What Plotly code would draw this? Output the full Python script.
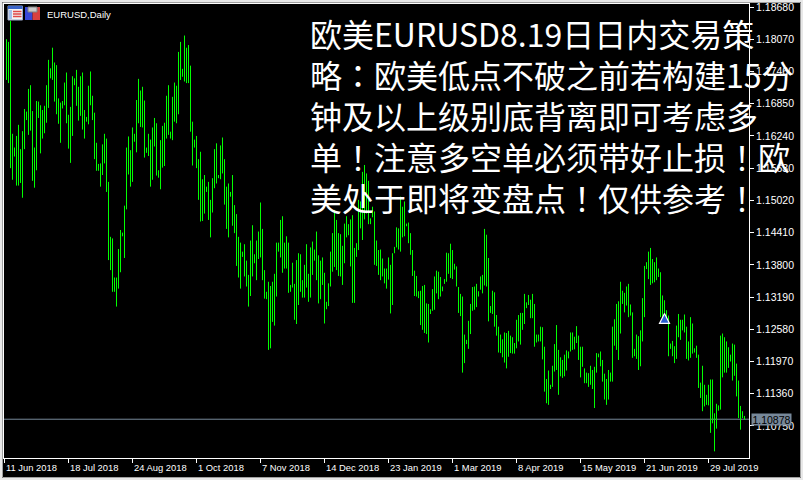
import plotly.graph_objects as go

# ---------------- data ----------------
highs = [
    1.1807, 1.1802, 1.1842, 1.1628, 1.1602, 1.1624, 1.1645, 1.1599, 1.1633, 1.1675,
    1.1670, 1.1713, 1.1720, 1.1671, 1.1602, 1.1690, 1.1689, 1.1682, 1.1673, 1.1681,
    1.1720, 1.1768, 1.1752, 1.1791, 1.1763, 1.1758, 1.1695, 1.1687, 1.1690, 1.1725,
    1.1744, 1.1664, 1.1679, 1.1737, 1.1733, 1.1749, 1.1717, 1.1737, 1.1744, 1.1673,
    1.1660, 1.1719, 1.1746, 1.1700, 1.1668, 1.1611, 1.1571, 1.1572, 1.1608, 1.1628,
    1.1619, 1.1537, 1.1433, 1.1430, 1.1356, 1.1356, 1.1410, 1.1446, 1.1441, 1.1492,
    1.1602, 1.1623, 1.1597, 1.1640, 1.1628, 1.1692, 1.1732, 1.1710, 1.1717, 1.1691,
    1.1602, 1.1628, 1.1617, 1.1640, 1.1658, 1.1648, 1.1559, 1.1616, 1.1643, 1.1649,
    1.1700, 1.1720, 1.1632, 1.1698, 1.1725, 1.1719, 1.1783, 1.1802, 1.1751, 1.1814,
    1.1791, 1.1796, 1.1757, 1.1651, 1.1617, 1.1624, 1.1580, 1.1594, 1.1542, 1.1550,
    1.1528, 1.1537, 1.1503, 1.1544, 1.1599, 1.1610, 1.1550, 1.1606, 1.1621, 1.1580,
    1.1528, 1.1534, 1.1518, 1.1550, 1.1493, 1.1476, 1.1433, 1.1422, 1.1405, 1.1419,
    1.1388, 1.1361, 1.1426, 1.1455, 1.1400, 1.1426, 1.1443, 1.1498, 1.1448, 1.1370,
    1.1329, 1.1348, 1.1340, 1.1348, 1.1363, 1.1422, 1.1422, 1.1465, 1.1472, 1.1422,
    1.1434, 1.1422, 1.1342, 1.1384, 1.1344, 1.1389, 1.1402, 1.1400, 1.1351, 1.1380,
    1.1419, 1.1363, 1.1413, 1.1424, 1.1409, 1.1443, 1.1398, 1.1388, 1.1394, 1.1365,
    1.1310, 1.1345, 1.1405, 1.1440, 1.1484, 1.1465, 1.1440, 1.1438, 1.1416, 1.1458,
    1.1472, 1.1457, 1.1466, 1.1474, 1.1412, 1.1421, 1.1503, 1.1500, 1.1556, 1.1569,
    1.1553, 1.1539, 1.1468, 1.1490, 1.1481, 1.1426, 1.1408, 1.1409, 1.1392, 1.1373,
    1.1373, 1.1394, 1.1380, 1.1402, 1.1414, 1.1451, 1.1449, 1.1509, 1.1490, 1.1500,
    1.1458, 1.1460, 1.1440, 1.1408, 1.1369, 1.1359, 1.1330, 1.1331, 1.1340, 1.1342,
    1.1307, 1.1306, 1.1296, 1.1334, 1.1358, 1.1369, 1.1367, 1.1357, 1.1339, 1.1353,
    1.1403, 1.1402, 1.1420, 1.1408, 1.1382, 1.1377, 1.1338, 1.1325, 1.1320, 1.1248,
    1.1238, 1.1274, 1.1306, 1.1338, 1.1339, 1.1344, 1.1330, 1.1358, 1.1361, 1.1448,
    1.1437, 1.1393, 1.1302, 1.1331, 1.1328, 1.1285, 1.1263, 1.1248, 1.1239, 1.1252,
    1.1251, 1.1255, 1.1246, 1.1243, 1.1232, 1.1276, 1.1285, 1.1289, 1.1289, 1.1325,
    1.1309, 1.1323, 1.1314, 1.1325, 1.1306, 1.1248, 1.1248, 1.1263, 1.1262, 1.1225,
    1.1164, 1.1180, 1.1153, 1.1189, 1.1230, 1.1266, 1.1219, 1.1205, 1.1200, 1.1210,
    1.1218, 1.1216, 1.1252, 1.1252, 1.1244, 1.1264, 1.1246, 1.1225, 1.1225, 1.1184,
    1.1176, 1.1175, 1.1189, 1.1181, 1.1187, 1.1213, 1.1212, 1.1216, 1.1200, 1.1174,
    1.1164, 1.1181, 1.1176, 1.1263, 1.1277, 1.1306, 1.1311, 1.1348, 1.1331, 1.1327,
    1.1339, 1.1344, 1.1305, 1.1290, 1.1221, 1.1248, 1.1245, 1.1256, 1.1317, 1.1378,
    1.1385, 1.1405, 1.1412, 1.1391, 1.1385, 1.1394, 1.1373, 1.1366, 1.1322, 1.1313,
    1.1294, 1.1284, 1.1231, 1.1236, 1.1226, 1.1265, 1.1287, 1.1276, 1.1276, 1.1286,
    1.1263, 1.1235, 1.1281, 1.1269, 1.1222, 1.1227, 1.1210, 1.1157, 1.1189, 1.1153,
    1.1134, 1.1153, 1.1163, 1.1163, 1.1099, 1.1117, 1.1114, 1.1246, 1.1250, 1.1243,
    1.1235, 1.1224, 1.1210, 1.1231, 1.1229, 1.1193, 1.1161, 1.1113, 1.1103, 1.1094,
]
lows = [
    1.1730, 1.1724, 1.1563, 1.1541, 1.1585, 1.1530, 1.1530, 1.1535, 1.1507, 1.1599,
    1.1654, 1.1626, 1.1634, 1.1539, 1.1526, 1.1559, 1.1658, 1.1591, 1.1619, 1.1629,
    1.1649, 1.1677, 1.1733, 1.1730, 1.1689, 1.1665, 1.1647, 1.1611, 1.1676, 1.1682,
    1.1648, 1.1600, 1.1573, 1.1624, 1.1720, 1.1681, 1.1653, 1.1662, 1.1636, 1.1619,
    1.1651, 1.1646, 1.1682, 1.1654, 1.1580, 1.1558, 1.1558, 1.1528, 1.1550, 1.1572,
    1.1518, 1.1389, 1.1370, 1.1329, 1.1329, 1.1301, 1.1335, 1.1366, 1.1434, 1.1393,
    1.1485, 1.1551, 1.1528, 1.1537, 1.1613, 1.1593, 1.1648, 1.1641, 1.1640, 1.1583,
    1.1592, 1.1586, 1.1528, 1.1541, 1.1604, 1.1549, 1.1545, 1.1523, 1.1564, 1.1567,
    1.1619, 1.1626, 1.1619, 1.1616, 1.1651, 1.1648, 1.1665, 1.1730, 1.1736, 1.1727,
    1.1724, 1.1724, 1.1632, 1.1568, 1.1602, 1.1563, 1.1503, 1.1462, 1.1463, 1.1477,
    1.1518, 1.1465, 1.1432, 1.1479, 1.1525, 1.1534, 1.1544, 1.1542, 1.1553, 1.1494,
    1.1448, 1.1432, 1.1509, 1.1454, 1.1440, 1.1378, 1.1356, 1.1335, 1.1395, 1.1358,
    1.1339, 1.1301, 1.1321, 1.1358, 1.1383, 1.1351, 1.1391, 1.1394, 1.1351, 1.1316,
    1.1315, 1.1219, 1.1222, 1.1272, 1.1265, 1.1320, 1.1405, 1.1394, 1.1365, 1.1373,
    1.1373, 1.1327, 1.1329, 1.1337, 1.1276, 1.1268, 1.1304, 1.1329, 1.1318, 1.1318,
    1.1337, 1.1310, 1.1318, 1.1361, 1.1388, 1.1351, 1.1307, 1.1315, 1.1342, 1.1269,
    1.1296, 1.1302, 1.1339, 1.1367, 1.1376, 1.1370, 1.1359, 1.1358, 1.1342, 1.1383,
    1.1432, 1.1436, 1.1377, 1.1308, 1.1308, 1.1395, 1.1408, 1.1449, 1.1427, 1.1466,
    1.1477, 1.1457, 1.1457, 1.1470, 1.1380, 1.1378, 1.1361, 1.1351, 1.1358, 1.1345,
    1.1335, 1.1352, 1.1288, 1.1304, 1.1402, 1.1413, 1.1409, 1.1405, 1.1432, 1.1434,
    1.1453, 1.1421, 1.1399, 1.1359, 1.1321, 1.1320, 1.1317, 1.1266, 1.1257, 1.1251,
    1.1249, 1.1233, 1.1287, 1.1293, 1.1295, 1.1326, 1.1315, 1.1320, 1.1330, 1.1344,
    1.1348, 1.1363, 1.1355, 1.1353, 1.1371, 1.1339, 1.1289, 1.1283, 1.1176, 1.1194,
    1.1230, 1.1221, 1.1249, 1.1293, 1.1295, 1.1300, 1.1320, 1.1333, 1.1326, 1.1341,
    1.1339, 1.1273, 1.1289, 1.1287, 1.1263, 1.1246, 1.1214, 1.1213, 1.1205, 1.1195,
    1.1184, 1.1206, 1.1213, 1.1212, 1.1212, 1.1222, 1.1235, 1.1229, 1.1257, 1.1268,
    1.1298, 1.1304, 1.1279, 1.1279, 1.1225, 1.1233, 1.1235, 1.1235, 1.1201, 1.1140,
    1.1118, 1.1115, 1.1145, 1.1149, 1.1178, 1.1181, 1.1134, 1.1169, 1.1166, 1.1169,
    1.1180, 1.1203, 1.1216, 1.1219, 1.1220, 1.1232, 1.1200, 1.1167, 1.1187, 1.1156,
    1.1156, 1.1149, 1.1153, 1.1145, 1.1109, 1.1176, 1.1205, 1.1188, 1.1159, 1.1125,
    1.1115, 1.1125, 1.1159, 1.1159, 1.1227, 1.1219, 1.1200, 1.1250, 1.1306, 1.1290,
    1.1303, 1.1281, 1.1284, 1.1204, 1.1207, 1.1202, 1.1181, 1.1188, 1.1235, 1.1281,
    1.1372, 1.1353, 1.1342, 1.1345, 1.1347, 1.1351, 1.1357, 1.1281, 1.1276, 1.1270,
    1.1276, 1.1207, 1.1221, 1.1207, 1.1194, 1.1202, 1.1243, 1.1238, 1.1256, 1.1252,
    1.1202, 1.1199, 1.1204, 1.1212, 1.1214, 1.1204, 1.1147, 1.1128, 1.1103, 1.1112,
    1.1115, 1.1114, 1.1062, 1.1080, 1.1027, 1.1070, 1.1104, 1.1106, 1.1167, 1.1176,
    1.1176, 1.1185, 1.1197, 1.1161, 1.1170, 1.1131, 1.1090, 1.1068, 1.1090, 1.1087,
]
date_ticks = [-1, 31, 63, 95, 127, 159, 191, 223, 255, 287, 319, 351]
date_labels = ["11 Jun 2018", "18 Jul 2018", "24 Aug 2018", "1 Oct 2018",
               "7 Nov 2018", "14 Dec 2018", "23 Jan 2019", "1 Mar 2019",
               "8 Apr 2019", "15 May 2019", "21 Jun 2019", "29 Jul 2019"]
price_ticks = [1.18680, 1.18070, 1.17460, 1.16850, 1.16240, 1.15630, 1.15020,
               1.14410, 1.13800, 1.13190, 1.12580, 1.11970, 1.11360, 1.10750]
last_price = 1.10878
arrow_bar = [329]
arrow_price = [1.1288]
symbol_title = "EURUSD,Daily"
note_lines = [
    "欧美EURUSD8.19日日内交易策",
    "略：欧美低点不破之前若构建15分",
    "钟及以上级别底背离即可考虑多",
    "单！注意多空单必须带好止损！欧",
    "美处于即将变盘点！仅供参考！",
]

# ---------------- layout geometry ----------------
W, H = 803, 480
L, R, T, B = 4, 54, 4, 22
PW, PH = W - L - R, H - T - B
X_RANGE = [-1.25, 371.25]
Y_RANGE = [1.10144, 1.18737]


def px(x):
    return (x - L) / PW


def py(y):
    return (H - B - y) / PH


def centered_punct(s):
    # full-width punctuation centred in its cell, as in the reference
    out = []
    for ch in s:
        if ch in "！：":
            out.append("<span style=\"font-family:'Noto Sans CJK TC'\">" + ch + "</span>")
        else:
            out.append(ch)
    return "".join(out)


# high-low bars as one line trace with gaps
xs, ys = [], []
for i, (h, l) in enumerate(zip(highs, lows)):
    xs += [i, i, None]
    ys += [l, h, None]

fig = go.Figure()
fig.add_trace(go.Scatter(x=xs, y=ys, mode="lines",
                         line=dict(color="#00ff00", width=1),
                         hoverinfo="skip", showlegend=False))
fig.add_trace(go.Scatter(x=arrow_bar, y=arrow_price, mode="markers",
                         marker=dict(symbol="arrow-up", size=10, color="#2a5cd0",
                                     line=dict(color="white", width=1.2)),
                         hoverinfo="skip", showlegend=False))

shapes = []
# current price line
shapes.append(dict(type="line", xref="paper", yref="y", x0=0, x1=1,
                   y0=last_price, y1=last_price, layer="below",
                   line=dict(color="#778899", width=1)))
# window border
shapes.append(dict(type="rect", xref="paper", yref="paper",
                   x0=px(1), x1=px(W - 1), y0=py(H - 1), y1=py(1),
                   line=dict(color="#e8e8e8", width=2)))
shapes.append(dict(type="rect", xref="paper", yref="paper",
                   x0=px(2.5), x1=px(W - 2.5), y0=py(H - 2.5), y1=py(2.5),
                   line=dict(color="#a0a0a0", width=1)))
# icon 1 (table-like)
shapes.append(dict(type="rect", xref="paper", yref="paper",
                   x0=px(8), x1=px(22.5), y0=py(20), y1=py(6),
                   fillcolor="#f4f4f4", line=dict(color="#9aa8c8", width=1)))
shapes.append(dict(type="rect", xref="paper", yref="paper",
                   x0=px(8), x1=px(22.5), y0=py(9), y1=py(6),
                   fillcolor="#3a64c8", line=dict(width=0)))
shapes.append(dict(type="rect", xref="paper", yref="paper",
                   x0=px(9), x1=px(12), y0=py(19), y1=py(10),
                   fillcolor="#a8c0ec", line=dict(width=0)))
for yy in (11.5, 14, 16.5):
    shapes.append(dict(type="line", xref="paper", yref="paper",
                       x0=px(13), x1=px(21.5), y0=py(yy), y1=py(yy),
                       line=dict(color="#e04848", width=1.5)))
# icon 2 (blue/red)
shapes.append(dict(type="rect", xref="paper", yref="paper",
                   x0=px(25), x1=px(32.5), y0=py(20), y1=py(7),
                   fillcolor="#3848d8", line=dict(width=0)))
shapes.append(dict(type="rect", xref="paper", yref="paper",
                   x0=px(32.5), x1=px(40), y0=py(20), y1=py(7),
                   fillcolor="#d84040", line=dict(width=0)))
shapes.append(dict(type="rect", xref="paper", yref="paper",
                   x0=px(28), x1=px(37), y0=py(12), y1=py(7),
                   fillcolor="#c8c8c8", line=dict(color="#808080", width=1)))

annotations = []
annotations.append(dict(text=symbol_title, xref="paper", yref="paper",
                        x=px(44.5), y=py(15), xanchor="left", yanchor="middle",
                        showarrow=False,
                        font=dict(family="Liberation Sans", size=9.5, color="white")))
for tv, lab in zip(date_ticks, date_labels):
    annotations.append(dict(text=lab, xref="x", yref="paper", x=tv, y=0,
                            xanchor="left", yanchor="top", xshift=-1, yshift=-2,
                            showarrow=False,
                            font=dict(family="Liberation Sans", size=9.4, color="white")))
# price label
annotations.append(dict(text=f"{last_price:.5f}", xref="paper", yref="y",
                        x=1, y=last_price, xanchor="left", yanchor="middle",
                        xshift=2, showarrow=False, bgcolor="#778899",
                        width=37, height=9, borderpad=1,
                        font=dict(family="Liberation Sans", size=10.5, color="black")))
# big note text
centers = [33, 74, 115, 156, 197]
for line, cy in zip(note_lines, centers):
    annotations.append(dict(text=centered_punct(line), xref="paper", yref="paper",
                            x=px(308), y=py(cy), xanchor="left", yanchor="middle",
                            showarrow=False,
                            font=dict(family="Noto Sans CJK SC", size=32, color="white")))

fig.update_layout(
    width=W, height=H, autosize=False,
    margin=dict(l=L, r=R, t=T, b=B, pad=0),
    paper_bgcolor="black", plot_bgcolor="black",
    showlegend=False,
    xaxis=dict(range=X_RANGE, showgrid=False, zeroline=False,
               showline=True, mirror=True, linecolor="white", linewidth=1,
               tickvals=date_ticks, ticktext=[""] * len(date_ticks),
               ticks="outside", ticklen=4, tickcolor="white", tickwidth=1,
               automargin=False, fixedrange=True),
    yaxis=dict(range=Y_RANGE, side="right", showgrid=False, zeroline=False,
               showline=True, mirror=True, linecolor="white", linewidth=1,
               tickvals=price_ticks, ticktext=[f"{v:.5f}" for v in price_ticks],
               ticks="outside", ticklen=4, tickcolor="white", tickwidth=1,
               tickfont=dict(family="Liberation Sans", size=10.5, color="white"),
               automargin=False, fixedrange=True),
    shapes=shapes,
    annotations=annotations,
)

fig.write_html("out.html", config={"displayModeBar": False},
               post_script="document.body.style.margin='0';document.body.style.background='black';")
